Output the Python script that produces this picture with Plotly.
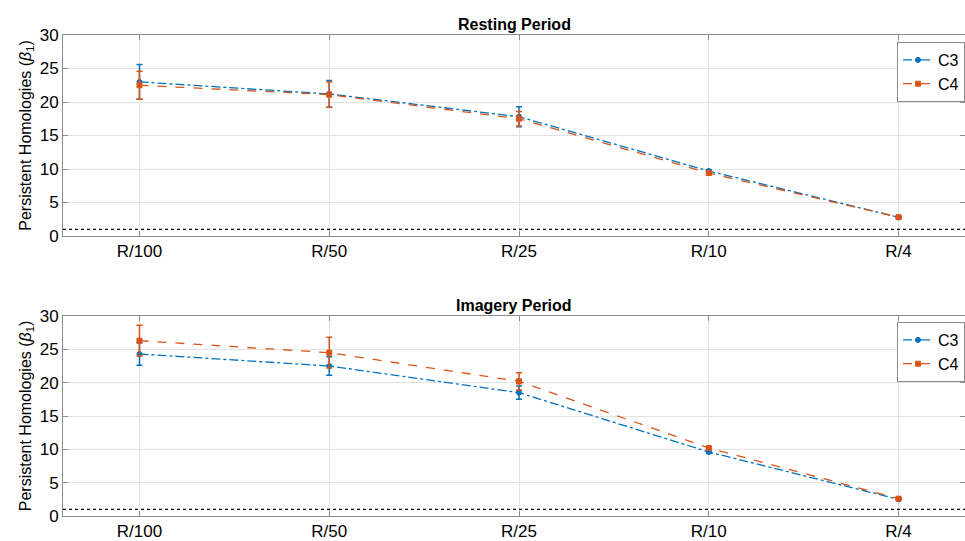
import plotly.graph_objects as go

categories = ["R/100", "R/50", "R/25", "R/10", "R/4"]

rest_c3 = [23.0, 21.2, 17.8, 9.7, 2.8]
rest_c3_err = [2.6, 2.0, 1.5, 0.2, 0.1]
rest_c4 = [22.5, 21.1, 17.5, 9.4, 2.8]
rest_c4_err = [2.1, 1.9, 1.1, 0.3, 0.1]

img_c3 = [24.3, 22.5, 18.5, 9.6, 2.5]
img_c3_err = [1.7, 1.4, 1.0, 0.2, 0.1]
img_c4 = [26.3, 24.5, 20.2, 10.2, 2.6]
img_c4_err = [2.3, 2.3, 1.3, 0.2, 0.1]

y_ticks = [0, 5, 10, 15, 20, 25, 30]
threshold = 1.0

C3_COLOR = "#0072BD"
C4_COLOR = "#D95319"
FONT = "Liberation Sans, Arial, sans-serif"

xpos = list(range(1, len(categories) + 1))

fig = go.Figure()

def add_series(y, err, name, color, dash, symbol, xa, ya, legend):
    fig.add_trace(go.Scatter(
        x=xpos, y=y, name=name, mode="lines+markers",
        line=dict(color=color, dash=dash, width=1.3),
        marker=dict(symbol=symbol, size=5, color=color,
                    line=dict(color=color, width=1)),
        error_y=dict(type="data", array=err, visible=True, color=color,
                     thickness=1.5, width=3),
        xaxis=xa, yaxis=ya, legend=legend, showlegend=True,
    ))

add_series(rest_c3, rest_c3_err, "C3", C3_COLOR, "dashdot", "circle", "x", "y", "legend")
add_series(rest_c4, rest_c4_err, "C4", C4_COLOR, "dash", "square", "x", "y", "legend")
add_series(img_c3, img_c3_err, "C3", C3_COLOR, "dashdot", "circle", "x2", "y2", "legend2")
add_series(img_c4, img_c4_err, "C4", C4_COLOR, "dash", "square", "x2", "y2", "legend2")

W, H = 965, 541
xdom = [63 / W, 1.0]
top_dom = [1 - 236 / H, 1 - 35 / H]
bot_dom = [1 - 516 / H, 1 - 316 / H]

axis_common = dict(
    showline=True, linecolor="#8c8c8c", linewidth=1, mirror="ticks",
    ticks="inside", ticklen=5, tickcolor="#8c8c8c",
    showgrid=True, gridcolor="#e3e3e3", gridwidth=1, zeroline=False,
    tickfont=dict(family=FONT, size=17, color="#000000"),
    automargin=False,
)

xaxis_common = dict(axis_common, range=[0.597, 5.35], tickmode="array",
                    tickvals=xpos, ticktext=categories)
yaxis_common = dict(axis_common, range=[0, 30], tickmode="array",
                    tickvals=y_ticks, ticktext=[str(v) for v in y_ticks])

ylabel = "Persistent Homologies (<i>β</i><sub>1</sub>)"

legend_common = dict(xanchor="left", yanchor="top",
                     bgcolor="white", bordercolor="#8c8c8c", borderwidth=1,
                     font=dict(family=FONT, size=16), tracegroupgap=0,
                     itemwidth=30)

fig.update_layout(
    width=W, height=H,
    margin=dict(l=0, r=0, t=0, b=0, autoexpand=False),
    paper_bgcolor="white", plot_bgcolor="white",
    font=dict(family=FONT, color="#000000"),
    xaxis=dict(xaxis_common, domain=xdom, anchor="y"),
    yaxis=dict(yaxis_common, domain=top_dom, anchor="x",
               title=dict(text=ylabel, font=dict(size=16), standoff=4)),
    xaxis2=dict(xaxis_common, domain=xdom, anchor="y2"),
    yaxis2=dict(yaxis_common, domain=bot_dom, anchor="x2",
                title=dict(text=ylabel, font=dict(size=16), standoff=4)),
    legend=dict(legend_common, x=897 / W, y=1 - 42 / H),
    legend2=dict(legend_common, x=897 / W, y=1 - 322 / H),
    annotations=[
        dict(text="<b>Resting Period</b>", xref="paper", yref="paper",
             x=(xdom[0] + xdom[1]) / 2, y=top_dom[1], yanchor="bottom",
             showarrow=False, font=dict(family=FONT, size=16)),
        dict(text="<b>Imagery Period</b>", xref="paper", yref="paper",
             x=(xdom[0] + xdom[1]) / 2, y=bot_dom[1], yanchor="bottom",
             showarrow=False, font=dict(family=FONT, size=16)),
    ],
    shapes=[
        dict(type="line", xref="x domain", yref="y", x0=0, x1=1,
             y0=threshold, y1=threshold,
             line=dict(color="#000000", width=1.2, dash="dot")),
        dict(type="line", xref="x2 domain", yref="y2", x0=0, x1=1,
             y0=threshold, y1=threshold,
             line=dict(color="#000000", width=1.2, dash="dot")),
    ],
)

fig.write_html("out.html")
